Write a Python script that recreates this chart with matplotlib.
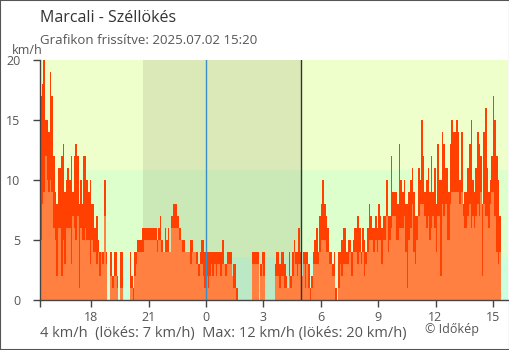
import numpy as np
import matplotlib
matplotlib.use("Agg")
import matplotlib.pyplot as plt
from matplotlib.patches import Rectangle

plt.rcParams['font.family'] = ['Open Sans', 'DejaVu Sans']

title = "Marcali - Széllökés"
subtitle = "Grafikon frissítve: 2025.07.02 15:20"
footer = "4 km/h  (lökés: 7 km/h)  Max: 12 km/h (lökés: 20 km/h)"
credit = "© Időkép"
unit = "km/h"

start_hour = -8 - 40 / 60      # 15:20 of the previous day, hours from midnight
step_minutes = 5

gust = [17, 18, 20, 15, 15, 14, 19, 17, 12, 9, 8, 11, 11, 12, 13, 9, 10, 11, 10, 12,
        9, 12, 13, 12, 8, 10, 8, 12, 12, 10, 9, 10, 8, 8, 6, 7, 5, 4, 4, 4, 10,
        4, 0, 0, 4, 2, 4, 4, 2, 0, 4, 4, 0, 0, 0, 0, 4, 2, 1, 4, 4,
        5, 5, 5, 6, 6, 6, 6, 6, 6, 6, 6, 6, 5, 6, 7, 5, 4, 6, 5, 6, 4, 7,
        8, 8, 8, 7, 6, 5, 5, 5, 4, 4, 4, 5, 5, 4, 4, 4, 3, 4, 5, 5,
        4, 4, 4, 4, 4, 4, 4, 4, 4, 4, 4, 5, 3, 3, 4, 4, 4, 2, 3, 3, 1,
        0, 0, 0, 0, 0, 0, 0, 0, 0, 4, 4, 4, 4, 0, 3, 4, 4, 0, 0, 0, 0, 0, 0,
        3, 4, 4, 3, 4, 4, 3, 2, 1, 4, 2, 4, 5, 4, 4, 6, 4, 2,
        4, 4, 4, 3, 1, 2, 4, 5, 6, 4, 7, 8, 10, 8, 7, 6, 4, 4, 3, 4,
        1, 0, 4, 4, 5, 6, 6, 4, 5, 5, 4, 5, 6, 6, 7, 6, 4, 6, 5, 4, 6, 8, 7,
        6, 6, 7, 6, 8, 7, 6, 7, 7, 10, 7, 7, 12, 9, 9, 9, 8, 13, 10, 9,
        10, 8, 8, 9, 10, 11, 9, 7, 7, 11, 10, 15, 12, 9, 10, 11, 9, 12, 9, 11,
        8, 13, 10, 10, 14, 13, 11, 11, 9, 13, 15, 14, 14, 15, 14, 10, 14, 8, 9, 9,
        11, 13, 15, 10, 9, 11, 14, 13, 12, 8, 14, 16, 11, 9, 10, 12, 17, 15, 12, 10, 7]

wind = [5, 8, 9, 12, 10, 9, 10, 9, 6, 5, 2, 6, 6, 2, 5, 3, 6, 6, 6, 3,
        7, 6, 5, 7, 1, 6, 5, 5, 6, 5, 5, 3, 5, 4, 4, 3, 4, 2, 4, 3, 7,
        3, 0, 0, 2, 1, 2, 2, 1, 0, 1, 1, 0, 0, 0, 0, 1, 1, 0, 2, 3,
        4, 4, 4, 4, 5, 5, 5, 5, 5, 5, 5, 5, 4, 5, 5, 4, 4, 4, 4, 4, 4, 6,
        6, 6, 6, 6, 5, 5, 4, 4, 4, 4, 4, 3, 4, 4, 4, 3, 2, 3, 3, 2,
        1, 2, 1, 2, 3, 2, 3, 2, 3, 3, 2, 3, 3, 2, 3, 3, 3, 2, 1, 1, 0,
        0, 0, 0, 0, 0, 0, 0, 0, 0, 3, 3, 3, 3, 0, 2, 3, 2, 0, 0, 0, 0, 0, 0,
        2, 2, 2, 1, 2, 2, 1, 1, 1, 2, 1, 2, 4, 3, 2, 3, 3, 2,
        3, 1, 3, 1, 0, 1, 3, 3, 3, 3, 4, 5, 5, 5, 4, 4, 3, 3, 2, 2,
        0, 0, 1, 3, 2, 3, 3, 3, 3, 4, 2, 4, 4, 4, 3, 4, 3, 4, 2, 3, 4, 5, 5,
        5, 4, 5, 4, 5, 5, 3, 5, 5, 7, 4, 5, 6, 7, 7, 5, 5, 6, 6, 6,
        7, 4, 1, 5, 6, 8, 4, 3, 5, 7, 8, 8, 8, 7, 6, 7, 5, 6, 7, 6,
        4, 7, 7, 2, 8, 7, 8, 5, 5, 8, 9, 9, 9, 9, 9, 8, 9, 7, 6, 6,
        7, 8, 6, 7, 6, 7, 8, 7, 9, 2, 8, 7, 7, 6, 8, 9, 9, 7, 4, 3, 4]

xtick_pos = [-6, -3, 0, 3, 6, 9, 12, 15]
xtick_labels = ['18', '21', '0', '3', '6', '9', '12', '15']
yticks = [0, 5, 10, 15, 20]
band_edges = [0, 3.6, 10.8, 20]
band_colors = ['#ccffdd', '#ddffcc', '#eeffcc']
sunset, sunrise = -3.27, 4.95
x_range = (-8.68, 15.79)

gust_color = '#ff4000'
wind_color = '#ff8040'
text_gray = '#555555'
axis_color = '#444444'

fig = plt.figure(figsize=(5.1, 3.5), dpi=100)
ax = fig.add_axes([40 / 510, 50 / 350, 468 / 510, 240 / 350])

for lo, hi, c in zip(band_edges[:-1], band_edges[1:], band_colors):
    ax.axhspan(lo, hi, color=c, lw=0, zorder=0)
ax.axvspan(sunset, sunrise, color='#2a2a00', alpha=0.1, lw=0, zorder=1)

n = len(gust)
edges = start_hour + np.arange(n + 1) * step_minutes / 60
ax.stairs(gust, edges, fill=True, color=gust_color, baseline=0, zorder=2)
ax.stairs(wind, edges, fill=True, color=wind_color, baseline=0, zorder=3)

ax.axvline(0, color='#3a8fc4', lw=1, zorder=4)
ax.axvline(sunrise, color='#333333', lw=1, zorder=4)

ax.set_xlim(*x_range)
ax.set_ylim(0, 20)
ax.set_xticks([x_range[0]] + xtick_pos)
ax.set_xticklabels([''] + xtick_labels)
ax.set_yticks(yticks)
ax.set_yticklabels([str(v) for v in yticks])

for s in ['top', 'right']:
    ax.spines[s].set_visible(False)
for s in ['left', 'bottom']:
    ax.spines[s].set_color(axis_color)
    ax.spines[s].set_linewidth(1)
    ax.spines[s].set_zorder(5)

ax.tick_params(axis='y', direction='out', length=5, width=1, color=axis_color,
               labelcolor=text_gray, labelsize=9, pad=9)
ax.tick_params(axis='x', direction='out', length=5, width=1, color=axis_color,
               labelcolor=text_gray, labelsize=9, pad=3)

fig.text(40 / 510, 1 - 18 / 350, title, fontsize=11.5, color='#333333', va='center', ha='left')
fig.text(40 / 510, 1 - 41 / 350, subtitle, fontsize=9.5, color=text_gray, va='center', ha='left')
fig.text(12 / 510, 1 - 50 / 350, unit, fontsize=9, color=text_gray, va='center', ha='left')
fig.text(40 / 510, 1 - 333 / 350, footer, fontsize=10.5, color=text_gray, va='center', ha='left')
fig.text(425 / 510, 1 - 330 / 350, credit, fontsize=9, color=text_gray, va='center', ha='left')

fig.patches.append(Rectangle((0, 0), 1, 1, transform=fig.transFigure, fill=False,
                             edgecolor='#555555', lw=1.5))

fig.savefig('out.png', dpi=100)
